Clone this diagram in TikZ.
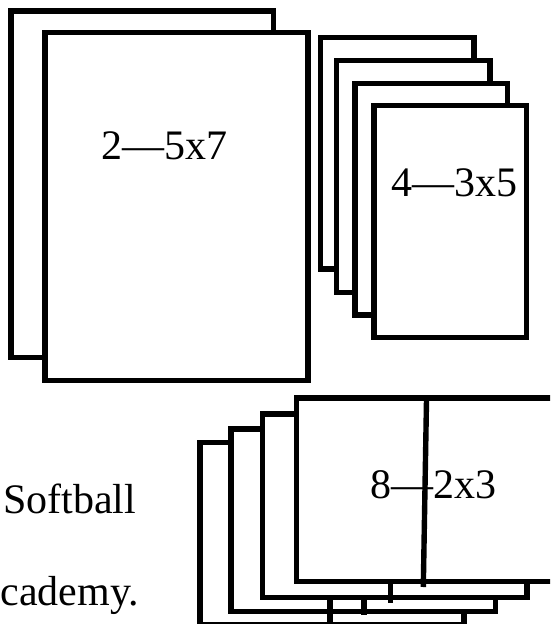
\documentclass[tikz,border=0pt]{standalone}
\usepackage{fontspec}
\setmainfont{Liberation Serif}
\tikzset{
  card/.style={draw=black, fill=white, line width=5.4pt},
  divider/.style={draw=black, line width=5.4pt},
  lbl/.style={font=\fontsize{42}{48}\selectfont, inner sep=0pt, anchor=base},
  side/.style={font=\fontsize{42}{48}\selectfont, inner sep=0pt, anchor=base west}
}
\begin{document}
\begin{tikzpicture}[x=1pt, y=-1pt]
\useasboundingbox (0,0) rectangle (550,624);
\clip (0,0) rectangle (550,624);
\fill[white] (0,0) rectangle (550,624);
% 5x7 group
\draw[card] (11,11) rectangle (273.5,357.5);
\draw[card] (45,32.5) rectangle (308,380.5);
% 3x5 group
\draw[card] (320.5,37.5) rectangle (474,269);
\draw[card] (336.5,60.5) rectangle (490,292.5);
\draw[card] (355,83.5) rectangle (507.5,315);
\draw[card] (374,105.5) rectangle (526.5,337.5);
% 2x3 group
\draw[card] (200,442.5) rectangle (464,625);
\draw[card] (231,429) rectangle (495.2,611.5);
\draw[card] (262.5,414) rectangle (527,597.5);
\draw[card] (296.5,398) rectangle (562,581.5);
% dividers
\draw[divider] (330,597.5) -- (330,630);
\draw[divider] (363.8,597.5) -- (363.8,615);
\draw[divider] (390.7,581.5) -- (390.7,603.3);
% labels
\node[lbl] (t57) at (164.2,159) {2—5x7};
\node[lbl] (t35) at (454.3,196.5) {4—3x5};
\node[lbl] (t23) at (433.8,498) {8—2x3};
\draw[divider] (426.5,400) -- (423.3,587);
\node[side] (soft) at (3,513) {Softball};
\node[side] (acad) at (0.5,605.7) {cademy.};
\end{tikzpicture}
\end{document}
